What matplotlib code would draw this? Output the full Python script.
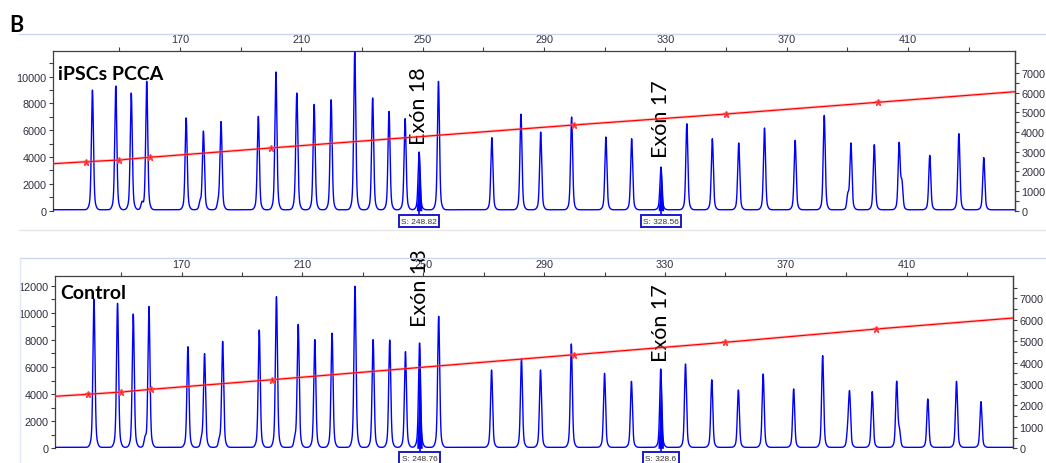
import numpy as np
import matplotlib
matplotlib.use("Agg")
import matplotlib.pyplot as plt
from matplotlib.lines import Line2D

W, H = 1046, 464

# fragment sizes (bp) and peak heights (RFU)
top_bp = [141.1, 148.8, 153.9, 159.0, 172.0, 177.7, 183.5, 195.8, 201.6, 208.5,
          214.2, 219.8, 227.6, 233.5, 238.9, 244.2, 248.82, 255.2, 272.8, 282.4,
          288.9, 299.1, 310.4, 318.9, 328.56, 337.1, 345.5, 354.2, 362.7, 372.8,
          382.4, 391.2, 398.9, 407.1, 417.2, 426.8, 435.0]
top_rfu = [9000, 9300, 8780, 9650, 6920, 5920, 6620, 7040, 10350, 8660,
           7930, 8280, 11840, 8410, 7410, 6870, 4380, 9650, 5450, 7200,
           5870, 6990, 5500, 5370, 3260, 6490, 5370, 5050, 6170, 5250,
           7110, 5000, 4930, 4960, 4130, 5750, 3960]
top_minor_bp = [157.4, 176.6, 182.6, 208.0, 390.2, 408.0]
top_minor_rfu = [575, 575, 500, 400, 1100, 2000]

bot_bp = [141.0, 148.8, 154.0, 159.2, 172.1, 177.6, 183.6, 195.7, 201.4, 208.6,
          214.1, 219.8, 227.4, 233.4, 238.9, 244.1, 248.76, 255.1, 272.6, 282.5,
          288.8, 299.0, 310.0, 318.9, 328.6, 336.8, 345.5, 354.3, 362.5, 372.6,
          382.2, 391.1, 398.6, 406.7, 417.0, 426.5, 434.6]
bot_rfu = [11020, 10700, 9910, 10450, 7500, 6960, 7870, 8730, 11190, 9120,
           8020, 8490, 11960, 8020, 7990, 7130, 7770, 9740, 5780, 6590,
           5780, 7700, 5530, 4940, 5850, 6220, 5060, 4300, 5480, 4380,
           6840, 4010, 4180, 4870, 3640, 4940, 3440]
bot_minor_bp = [157.9, 176.6, 182.5, 207.5, 390.5, 407.6]
bot_minor_rfu = [630, 560, 500, 600, 1050, 1180]

# size standard sizing curve (bp -> data point, right axis)
std_bp = [139, 150, 160, 200, 300, 350, 400]
top_std_scan = [2490, 2580, 2715, 3190, 4360, 4915, 5510]
bot_std_scan = [2520, 2627, 2753, 3201, 4368, 4946, 5567]
curve_bp = [128.1] + std_bp + [445.3]
top_curve_scan = [2389] + top_std_scan + [6050]
bot_curve_scan = [2427] + bot_std_scan + [6080]

exon_names = ["Exón 18", "Exón 17"]
top_exon_bp = [248.82, 328.56]
bot_exon_bp = [248.76, 328.6]

XMIN, XMAX = 128.1, 445.3
BASE = 70
TICK_C = "#303040"
SPINE_C = "#404040"


def trace(x, bp, rfu, mbp, mrfu):
    y = np.zeros_like(x)
    for p, h in zip(list(bp) + list(mbp), list(rfu) + list(mrfu)):
        y += (h - BASE) * (0.88 * np.exp(-0.5 * ((x - p) / 0.32) ** 2)
                           + 0.12 * np.exp(-0.5 * ((x - p) / 0.75) ** 2))
    return y + BASE


def panel(rect, bp, rfu, mbp, mrfu, cscan, sscan, lmax, rmax, ltop,
          title, title_y, exon_bp, exon_y, stem_y, box_y):
    ax = fig.add_axes(rect)
    x = np.arange(XMIN, XMAX, 0.02)
    y = trace(x, bp, rfu, mbp, mrfu)
    ax.plot(x, y, color="#0000ff", lw=1.0, zorder=3)
    for p in exon_bp:
        m = (x > p - 0.9) & (x < p + 0.9)
        ax.fill_between(x[m], 0, y[m], color="#0000ff", lw=0, zorder=3)
        ax.plot([p, p], [0, stem_y], color="#0000ff", lw=1.2,
                transform=ax.get_xaxis_transform(), clip_on=False)
        ax.text(p, box_y, "S: %s" % p, transform=ax.get_xaxis_transform(),
                ha="center", va="center", fontsize=6.0, color="#333333",
                family="Liberation Sans",
                bbox=dict(boxstyle="square,pad=0.3", fc="white",
                          ec="#1a1acc", lw=1.4), clip_on=False)
    for name, p, ty in zip(exon_names, exon_bp, exon_y):
        ax.text(p, ty, name, rotation=90, ha="center", va="bottom",
                fontsize=15.5, family="Lato", color="black", zorder=6)
    ax.text(0.005, title_y, title, transform=ax.transAxes, fontsize=14,
            fontweight="bold", family="Lato", va="baseline", zorder=6)

    ax.set_xlim(XMIN, XMAX)
    ax.set_ylim(0, lmax)
    ax.xaxis.tick_top()
    xt = np.arange(150, 441, 20)
    ax.set_xticks(xt)
    ax.set_xticklabels([str(v) if (v - 170) % 40 == 0 else "" for v in xt])
    yt = np.arange(0, ltop + 1, 1000)
    ax.set_yticks(yt)
    ax.set_yticklabels([str(v) if v % 2000 == 0 else "" for v in yt])
    ax.tick_params(axis="both", direction="out", length=3, width=0.8,
                   pad=1.5, labelsize=7.8, colors=SPINE_C, labelcolor=TICK_C)
    for lab in ax.get_xticklabels() + ax.get_yticklabels():
        lab.set_family("Liberation Sans")
    ax.spines["bottom"].set_visible(False)
    for s in ["top", "left", "right"]:
        ax.spines[s].set_color(SPINE_C)
        ax.spines[s].set_linewidth(0.9)

    ax2 = ax.twinx()
    ax2.plot(curve_bp, cscan, color="#ff8080", lw=2.2, alpha=0.4, zorder=4)
    ax2.plot(curve_bp, cscan, color="#ff0000", lw=0.9, zorder=5)
    ax2.plot(std_bp, sscan, ls="none", marker="*", ms=5, color="#ff0000",
             mec="#ff4040", zorder=5)
    ax2.set_xlim(XMIN, XMAX)
    ax2.set_ylim(0, rmax)
    rt = np.arange(0, 7501, 500)
    ax2.set_yticks(rt)
    ax2.set_yticklabels([str(v) if v % 1000 == 0 else "" for v in rt])
    ax2.tick_params(axis="y", direction="out", length=3, width=0.8, pad=1.5,
                    labelsize=7.8, colors=SPINE_C, labelcolor=TICK_C)
    for lab in ax2.get_yticklabels():
        lab.set_family("Liberation Sans")
    for s in ["top", "left", "bottom"]:
        ax2.spines[s].set_visible(False)
    ax2.spines["right"].set_color(SPINE_C)
    ax2.spines["right"].set_linewidth(0.9)
    return ax


fig = plt.figure(figsize=(W / 100, H / 100), dpi=100)
fig.patch.set_facecolor("white")

# frame lines of the screenshot
fig.add_artist(Line2D([19 / W, 1], [1 - 35 / H] * 2, color="#c8d8f2", lw=1))
fig.add_artist(Line2D([19 / W, 1], [1 - 231 / H] * 2, color="#e6e6e6", lw=1))
fig.add_artist(Line2D([20 / W, 1], [1 - 259.3 / H] * 2, color="#c8d8f2", lw=1))
fig.add_artist(Line2D([20 / W] * 2, [0, 1 - 259.3 / H], color="#e2e8f5", lw=1))

fig.text(9 / W, 1 - 31.5 / H, "B", fontsize=15.5, fontweight="bold",
         family="Lato", va="baseline")

panel([53 / W, 1 - 211.7 / H, 962 / W, 160 / H],
      top_bp, top_rfu, top_minor_bp, top_minor_rfu, top_curve_scan,
      top_std_scan, 11940, 8134, 11000, "iPSCs PCCA", 0.823,
      top_exon_bp, [4980, 3990], -0.02, -0.066)

panel([55 / W, 1 - 449.3 / H, 958.3 / W, 172.6 / H],
      bot_bp, bot_rfu, bot_minor_bp, bot_minor_rfu, bot_curve_scan,
      bot_std_scan, 12740, 8054, 12000, "Control", 0.869,
      bot_exon_bp, [9050, 6470], -0.019, -0.059)

fig.savefig("out.png", dpi=100)
